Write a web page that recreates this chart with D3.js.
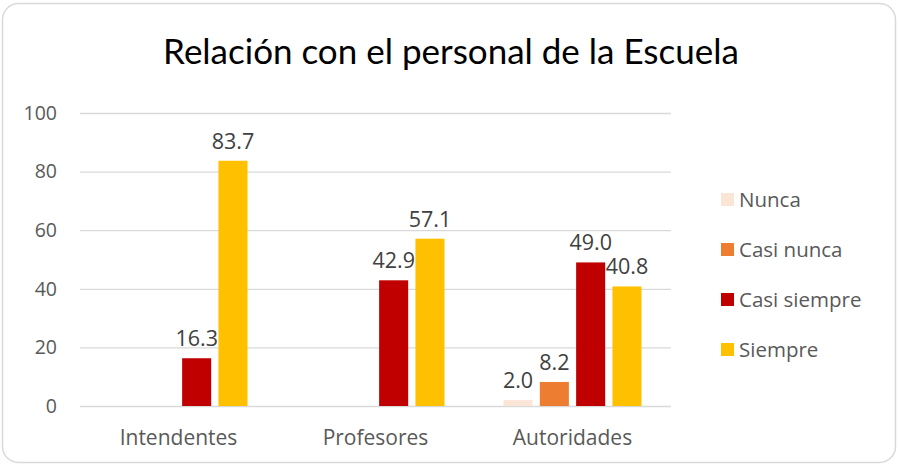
<!DOCTYPE html>
<html>
<head>
  <meta charset="utf-8">
  <script src="https://d3js.org/d3.v7.min.js"></script>
  <style>
    body { margin: 0; background: #fff; }
    text { font-family: "Open Sans", sans-serif; }
    .gridlines line { stroke: #d9d9d9; stroke-width: 1.3; }
    .gridlines .domain { stroke: none; }
  </style>
</head>
<body>
  <svg id="chart" width="899" height="466"></svg>
  <script>
    const categories = ["Intendentes", "Profesores", "Autoridades"];
    const seriesNames = ["Nunca", "Casi nunca", "Casi siempre", "Siempre"];
    const nunca = [null, null, 2.0];
    const casiNunca = [null, null, 8.2];
    const casiSiempre = [16.3, 42.9, 49.0];
    const siempre = [83.7, 57.1, 40.8];
    const yTicks = [0, 20, 40, 60, 80, 100];
    const colors = ["#FBE5D6", "#ED7D31", "#C00000", "#FFC000"];

    const seriesValues = [nunca, casiNunca, casiSiempre, siempre];

    const svg = d3.select("svg#chart");
    const margin = { top: 113, left: 80, right: 228, bottom: 60 };
    const plotRight = 671, plotBottom = 406;

    // frame
    svg.append("rect")
      .attr("x", 2.5).attr("y", 3.5)
      .attr("width", 893).attr("height", 459)
      .attr("rx", 16)
      .attr("fill", "#fff")
      .attr("stroke", "#d9d9d9")
      .attr("stroke-width", 1.5);

    svg.append("text")
      .attr("x", 451).attr("y", 64)
      .attr("text-anchor", "middle")
      .style("font-family", "Lato, sans-serif")
      .style("font-size", "35px")
      .attr("fill", "#000")
      .text("Relación con el personal de la Escuela");

    const yScale = d3.scaleLinear().domain([0, 100]).range([plotBottom, margin.top]);
    const x0 = d3.scaleBand().domain(categories).range([margin.left, plotRight]);
    const x1 = d3.scaleBand().domain(seriesNames)
      .range([-69, 69]).paddingInner(0.2);

    let gridlines = d3.axisLeft(yScale)
      .tickValues(yTicks)
      .tickSize(-(plotRight - margin.left))
      .tickFormat("");
    svg.append("g")
      .attr("class", "gridlines")
      .attr("transform", "translate(" + margin.left + ",0)")
      .call(gridlines);

    // y labels
    svg.append("g").selectAll("text").data(yTicks)
      .join("text")
      .attr("x", 57)
      .attr("y", d => yScale(d))
      .attr("dy", "0.35em")
      .attr("text-anchor", "end")
      .style("font-size", "19.5px")
      .attr("fill", "#595959")
      .text(d => d);

    // x labels
    svg.append("g").selectAll("text").data(categories)
      .join("text")
      .attr("x", d => x0(d) + x0.bandwidth() / 2)
      .attr("y", 445)
      .attr("text-anchor", "middle")
      .style("font-size", "21px")
      .attr("fill", "#595959")
      .text(d => d);

    // bars
    let points = [];
    seriesValues.forEach((vals, s) => {
      vals.forEach((v, i) => {
        if (v != null) points.push({ cat: categories[i], series: seriesNames[s], value: v, color: colors[s] });
      });
    });

    let chartArea = svg.append("g");
    chartArea.selectAll("rect.bar").data(points)
      .join("rect")
      .attr("class", "bar")
      .attr("x", d => x0(d.cat) + x0.bandwidth() / 2 + x1(d.series))
      .attr("y", d => yScale(d.value))
      .attr("width", x1.bandwidth())
      .attr("height", d => plotBottom - yScale(d.value))
      .attr("fill", d => d.color);

    chartArea.selectAll("text.label").data(points)
      .join("text")
      .attr("class", "label")
      .attr("x", d => x0(d.cat) + x0.bandwidth() / 2 + x1(d.series) + x1.bandwidth() / 2)
      .attr("y", d => yScale(d.value) - 12)
      .attr("text-anchor", "middle")
      .style("font-size", "21.5px")
      .attr("fill", "#404040")
      .text(d => d3.format(".1f")(d.value));

    // legend
    let legend = svg.append("g").selectAll("g").data(seriesNames)
      .join("g")
      .attr("transform", (d, i) => "translate(721," + (200 + i * 50) + ")");
    legend.append("rect")
      .attr("x", 0).attr("y", -7)
      .attr("width", 13).attr("height", 13)
      .attr("fill", (d, i) => colors[i]);
    legend.append("text")
      .attr("x", 18).attr("y", 0)
      .attr("dy", "0.35em")
      .style("font-size", "20.5px")
      .attr("fill", "#595959")
      .text(d => d);
  </script>
</body>
</html>
